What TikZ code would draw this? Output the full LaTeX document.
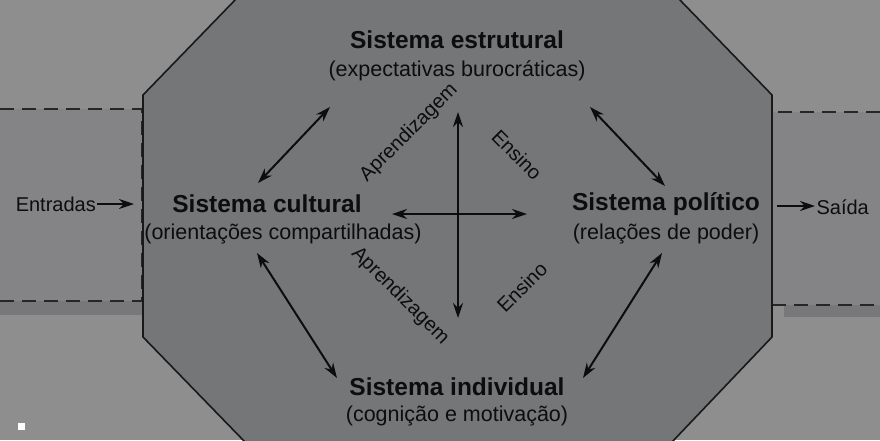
\documentclass[tikz,border=0pt]{standalone}
\usepackage{fontspec}
\setmainfont{Liberation Sans}
\usetikzlibrary{arrows.meta}
\definecolor{bg}{RGB}{142,142,142}
\definecolor{shd}{RGB}{120,120,122}
\definecolor{box}{RGB}{132,132,134}
\definecolor{oct}{RGB}{117,118,120}
\begin{document}
\begin{tikzpicture}[x=1pt,y=-1pt,
  ttl/.style={font=\fontsize{24.5}{28}\selectfont\bfseries,text=black!95},
  sub/.style={font=\fontsize{21.5}{25}\selectfont,text=black!95},
  lbl/.style={font=\fontsize{20}{24}\selectfont,text=black!95},
  dbl/.style={<->,>={Stealth[length=15pt,width=10pt]},line width=2pt,black!95},
  one/.style={->,>={Stealth[length=15pt,width=10pt]},line width=2pt,black!95}]
\fill[bg] (0,0) rectangle (880,440);
\useasboundingbox (0,0) rectangle (880,440);
% side boxes
\fill[shd] (0,301) rectangle (143,315);
\fill[box] (0,109) rectangle (143,301);
\draw[dash pattern=on 14pt off 8pt,line width=1.6pt,black!85] (0,109) -- (142,109) -- (142,301) -- (0,301);
\fill[shd] (784,305) rectangle (880,317);
\fill[box] (772,112) rectangle (880,305);
\draw[dash pattern=on 14pt off 8pt,line width=1.6pt,black!85] (880,112) -- (772,112) (772,305) -- (880,305);
% octagon
\draw[line width=1.6pt,black!90,fill=oct]
 (237,-2) -- (143,95) -- (143,337) -- (245,442) -- (672,442) -- (772,337) -- (772,95) -- (678,-2) -- cycle;
\fill[white] (18,423) rectangle (25,430);
% nodes
\node[ttl] (est) at (457,40) {Sistema estrutural};
\node[sub] (ests) at (457,71) {(expectativas burocráticas)};
\node[ttl] (cul) at (267,204) {Sistema cultural};
\node[sub] (culs) at (283,234) {(orientações compartilhadas)};
\node[ttl] (pol) at (666,204) {Sistema político};
\node[sub] (pols) at (666,234) {(relações de poder)};
\node[ttl] (ind) at (457,387) {Sistema individual};
\node[sub] (inds) at (457,416) {(cognição e motivação)};
\node[lbl,anchor=east,inner sep=1pt] (ent) at (97,204) {Entradas};
\node[lbl,anchor=west] (sai) at (813,207) {Saída};
\coordinate (e1) at (134,204); \coordinate (s0) at (777,206); \coordinate (s1) at (815,206);
\draw[one] (ent) -- (e1);
\draw[one] (s0) -- (s1);
% cross
\coordinate (cT) at (458,112); \coordinate (cB) at (458,318);
\coordinate (cL) at (392,214); \coordinate (cR) at (527,214);
\draw[dbl] (cT) -- (cB);
\draw[dbl] (cL) -- (cR);
% diagonals
\coordinate (a1) at (330,107); \coordinate (a2) at (258,183);
\coordinate (b1) at (590,107); \coordinate (b2) at (665,186);
\coordinate (c1) at (257,253); \coordinate (c2) at (337,378);
\coordinate (d1) at (662,253); \coordinate (d2) at (583,378);
\draw[dbl] (a1) -- (a2);
\draw[dbl] (b1) -- (b2);
\draw[dbl] (c1) -- (c2);
\draw[dbl] (d1) -- (d2);
% rotated labels
\node[lbl,rotate=45,inner sep=0pt] (ap1) at (409,133) {Aprendizagem};
\node[lbl,rotate=-45,inner sep=0pt] (en1) at (517,155) {Ensino};
\node[lbl,rotate=-45,inner sep=0pt] (ap2) at (400,296) {Aprendizagem};
\node[lbl,rotate=45,inner sep=0pt] (en2) at (522,287) {Ensino};
\end{tikzpicture}
\end{document}
